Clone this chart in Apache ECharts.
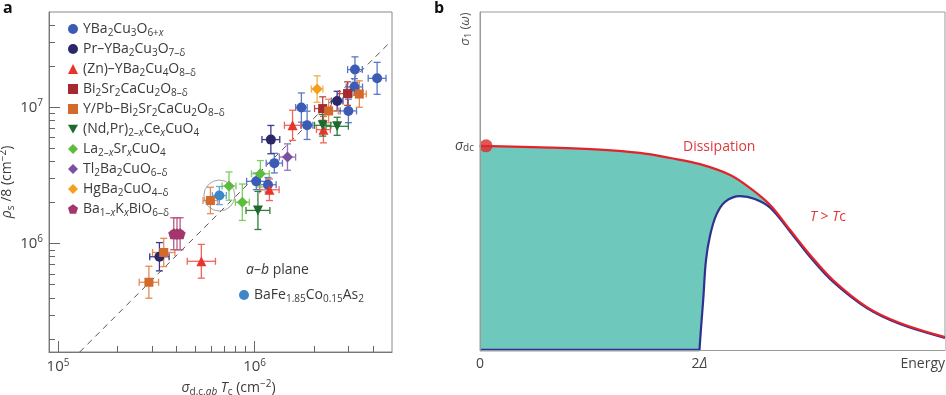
<!DOCTYPE html>
<html><head><meta charset="utf-8">
<script src="https://cdn.jsdelivr.net/npm/echarts@6/dist/echarts.min.js"></script>
<style>html,body{margin:0;padding:0;background:#fff}#c{width:946px;height:395px}</style>
</head><body><div id="c"></div>
<script>
// ---------- Panel a data: [sigma_dc*Tc, rho_s/8, x error factor, y error factor]
const ybco   = [[3.24e6,1.89e7,1.09,1.24],[4.20e6,1.63e7,1.11,1.31],[3.22e6,1.41e7,1.10,1.15],[3.00e6,9.4e6,1.10,1.22],
                [1.73e6,9.95e6,1.07,1.28],[1.85e6,7.37e6,1.07,1.27],[1.26e6,3.89e6,1.10,1.18],[1.02e6,2.86e6,1.12,1.15],[1.17e6,2.70e6,1.10,1.13]];
const prYbco = [[2.63e6,1.11e7,1.07,1.18],[1.21e6,5.79e6,1.11,1.27],[3.28e5,8.0e5,1.12,1.27]];
const znYbco = [[1.56e6,7.37e6,1.10,1.29],[2.24e6,6.85e6,1.085,1.25],[1.19e6,2.48e6,1.12,1.20],[5.36e5,7.41e5,1.18,1.33]];
const bi2212 = [[2.97e6,1.26e7,1.10,1.22],[2.22e6,9.78e6,1.10,1.22]];
const ypbBi  = [[3.41e6,1.25e7,1.085,1.25],[2.38e6,9.39e6,1.12,1.22],[5.96e5,2.07e6,1.09,1.25],[3.45e5,8.6e5,1.14,1.27],[2.90e5,5.2e5,1.12,1.31]];
const ndce   = [[2.22e6,7.37e6,1.10,1.20],[2.63e6,7.25e6,1.14,1.165],[1.04e6,1.75e6,1.15,1.38]];
const lsco   = [[1.07e6,3.25e6,1.11,1.25],[7.41e5,2.64e6,1.085,1.27],[8.66e5,2.01e6,1.085,1.36]];
const tl2201 = [[1.47e6,4.31e6,1.10,1.25]];
const hg1201 = [[2.08e6,1.36e7,1.07,1.25]];
const bkbo   = [[3.88e5,1.18e6,1.03,1.31],[4.03e5,1.18e6,1.03,1.31],[4.18e5,1.18e6,1.03,1.31]];
const bafe   = [[6.62e5,2.25e6,1.085,1.165]];
const homesLine = [[1.29e5,1.6e5],[4.84e6,2.96e7]];
const xRange = [9e4, 5e6];
const yRange = [1.6e5, 5e7];
const xMajorTicks = [1e5,1e6];
const xMinorTicks = [2e5,3e5,4e5,5e5,6e5,7e5,8e5,9e5,2e6,3e6,4e6];
const yMajorTicks = [1e6,1e7];
const yMinorTicks = [2e5,3e5,4e5,5e5,6e5,7e5,8e5,9e5,2e6,3e6,4e6,5e6,6e6,7e6,8e6,9e6,2e7,3e7,4e7];

// ---------- Panel b data: [energy, sigma1]
const energyTc = [[0,0.604],[1.51,0.599],[2.58,0.593],[3.44,0.583],[4.09,0.568],[4.73,0.550],[5.38,0.518],[5.81,0.479],
                  [6.24,0.429],[6.67,0.355],[7.10,0.281],[7.59,0.207],[8.32,0.127],[9.03,0.080],[10,0.038]];
const energyT0 = [[4.72,0],[4.75,0.059],[4.80,0.148],[4.86,0.266],[4.95,0.340],[5.08,0.399],[5.27,0.438],[5.59,0.455],
                  [5.91,0.447],[6.24,0.421],[6.67,0.350],[7.10,0.275],[7.59,0.202],[8.32,0.124],[9.03,0.077],[10,0.036]];
const t0Gap = [[0,0],[4.72,0]];
const sigmaDcPoint = [[0.13,0.604]];
const energyTickValues = [0,4.72,10];
const sigmaTickValues = [0.604];

const F = 'Open Sans, Noto Sans, sans-serif';
const TXT = '#3a3a3a';
const RICH = {
  s:  {fontSize:10, lineHeight:8, verticalAlign:'bottom', fontFamily:F},
  si: {fontSize:10, lineHeight:8, verticalAlign:'bottom', fontStyle:'italic', fontFamily:F},
  p:  {fontSize:10, lineHeight:8, verticalAlign:'top', fontFamily:F},
  i:  {fontStyle:'italic', fontFamily:F}
};

const groups = [
  {name:'YBa2Cu3O6+x', label:'YBa{s|2}Cu{s|3}O{s|6+}{si|x}', data:ybco, symbol:'circle', size:10, color:'#3b5bb5', bar:'#5b77c9'},
  {name:'Pr-YBa2Cu3O7-δ', label:'Pr–YBa{s|2}Cu{s|3}O{s|7–δ}', data:prYbco, symbol:'circle', size:10, color:'#2a2869', bar:'#3b3a8c'},
  {name:'(Zn)-YBa2Cu4O8-δ', label:'(Zn)–YBa{s|2}Cu{s|4}O{s|8–δ}', data:znYbco, symbol:'triangle', size:10, color:'#e8352b', bar:'#f06459'},
  {name:'Bi2Sr2CaCu2O8-δ', label:'Bi{s|2}Sr{s|2}CaCu{s|2}O{s|8–δ}', data:bi2212, symbol:'rect', size:9, color:'#a52a30', bar:'#b84a4c'},
  {name:'Y/Pb-Bi2Sr2CaCu2O8-δ', label:'Y/Pb–Bi{s|2}Sr{s|2}CaCu{s|2}O{s|8–δ}', data:ypbBi, symbol:'rect', size:9, color:'#d4692c', bar:'#e38c54'},
  {name:'(Nd,Pr)2-xCexCuO4', label:'(Nd,Pr){s|2–}{si|x}Ce{si|x}CuO{s|4}', data:ndce, symbol:'path://M0,0L2,0L1,1.75Z', size:10, color:'#1e6a2c', bar:'#2f7e3b'},
  {name:'La2-xSrxCuO4', label:'La{s|2–}{si|x}Sr{si|x}CuO{s|4}', data:lsco, symbol:'diamond', size:11, color:'#5cbd3c', bar:'#7dcd60'},
  {name:'Tl2Ba2CuO6-δ', label:'Tl{s|2}Ba{s|2}CuO{s|6–δ}', data:tl2201, symbol:'diamond', size:11, color:'#7a50a3', bar:'#9473b8'},
  {name:'HgBa2CuO4-δ', label:'HgBa{s|2}CuO{s|4–δ}', data:hg1201, symbol:'diamond', size:11, color:'#f3a01c', bar:'#f2b244'},
  {name:'Ba1-xKxBiO6-δ', label:'Ba{s|1–}{si|x}K{si|x}BiO{s|6–δ}', data:bkbo, symbol:'path://M1,0L1.95,0.69L1.59,1.81L0.41,1.81L0.05,0.69Z', size:11, color:'#a3366a', bar:'#b65a86'},
  {name:'BaFe1.85Co0.15As2', label:'BaFe{s|1.85}Co{s|0.15}As{s|2}', data:bafe, symbol:'circle', size:10, color:'#3d87c9', bar:'#6aa4d8'}
];
const labelOf = {};
groups.forEach(g => labelOf[g.name] = g.label);

function errSeries(g) {
  return {
    type:'custom', name:g.name+' error', xAxisIndex:0, yAxisIndex:0, data:g.data, silent:true, z:2,
    dimensions:['x','y','fx','fy'], encode:{x:0, y:1},
    renderItem:(params, api) => {
      const x = api.value(0), y = api.value(1), fx = api.value(2), fy = api.value(3);
      const c = api.coord([x, y]);
      const l = api.coord([x/fx, y]), r = api.coord([x*fx, y]);
      const b = api.coord([x, y/fy]), t = api.coord([x, y*fy]);
      const cap = 3.5, st = {stroke:g.bar, lineWidth:1.3};
      const ln = (x1,y1,x2,y2) => ({type:'line', shape:{x1,y1,x2,y2}, style:st});
      return {type:'group', children:[
        ln(l[0],c[1],r[0],c[1]), ln(l[0],c[1]-cap,l[0],c[1]+cap), ln(r[0],c[1]-cap,r[0],c[1]+cap),
        ln(c[0],b[1],c[0],t[1]), ln(c[0]-cap,b[1],c[0]+cap,b[1]), ln(c[0]-cap,t[1],c[0]+cap,t[1])
      ]};
    }
  };
}
function scatterSeries(g) {
  return {type:'scatter', name:g.name, xAxisIndex:0, yAxisIndex:0, data:g.data.map(d => [d[0], d[1]]),
    symbol:g.symbol, symbolSize:g.size, itemStyle:{color:g.color, opacity:1}, z:4, silent:true};
}
const powLabel = v => { const e = v > 100 ? Math.round(Math.log10(v)) : Math.round(v); return '{b|10}{p|' + e + '}'; };
const tickRich = {b:{fontSize:15, fontFamily:F, color:'#444', lineHeight:18}, p:{fontSize:10, lineHeight:10, verticalAlign:'top', fontFamily:F, color:'#444'}};

const series = [];
groups.forEach(g => series.push(errSeries(g)));
groups.forEach(g => series.push(scatterSeries(g)));
series.push({type:'line', name:'Homes law', xAxisIndex:0, yAxisIndex:0, data:homesLine, showSymbol:false, silent:true, z:1,
  lineStyle:{color:'#555', width:1, type:[6,5]}});
series.push({type:'scatter', name:'circled', xAxisIndex:0, yAxisIndex:0, data:bafe.map(d => [d[0], d[1]]), symbolSize:31, silent:true, z:5,
  itemStyle:{color:'rgba(0,0,0,0)', borderColor:'#8a8a8a', borderWidth:1}});
// panel b
series.push({type:'line', name:'fill', xAxisIndex:2, yAxisIndex:2, data:energyTc, smooth:0.35, showSymbol:false, silent:true, z:1,
  lineStyle:{width:0, opacity:0}, areaStyle:{color:'#6fc8bc', opacity:1}});
series.push({type:'line', name:'T = 0', xAxisIndex:2, yAxisIndex:2, data:energyT0, smooth:0.35, showSymbol:false, silent:true, z:2,
  lineStyle:{color:'#2e318f', width:2.2}, areaStyle:{color:'#ffffff', opacity:1}});
series.push({type:'line', name:'T > Tc', xAxisIndex:2, yAxisIndex:2, data:energyTc, smooth:0.35, showSymbol:false, silent:true, z:3,
  lineStyle:{color:'#e3222a', width:2.2}});
series.push({type:'line', name:'gap', xAxisIndex:2, yAxisIndex:2, data:t0Gap, showSymbol:false, silent:true, z:3, clip:false,
  lineStyle:{color:'#2e318f', width:2.4}});
series.push({type:'scatter', name:'sigma dc', xAxisIndex:2, yAxisIndex:2, data:sigmaDcPoint, symbolSize:13, silent:true, z:4, clip:false,
  itemStyle:{color:'#dd2a2a'}});

// log-space tick axes (ticks only) laid over the log data axes of panel a
function tickAxis(pos, range, values, len) {
  return {type:'value', gridIndex:0, position:pos, min:Math.log10(range[0]), max:Math.log10(range[1]), z:6,
    splitLine:{show:false}, axisLine:{show:false}, axisLabel:{show:false},
    axisTick:{show:true, inside:true, length:len, lineStyle:{color:'#666'}, customValues:values.map(v => Math.log10(v))}};
}
const logAxisBase = {type:'log', logBase:10, splitLine:{show:false}, minorTick:{show:false}, minorSplitLine:{show:false}, axisTick:{show:false}};
const option = {
  animation:false,
  backgroundColor:'#fff',
  textStyle:{fontFamily:F},
  grid:[
    {left:49, top:12, width:343, height:340, show:true, borderColor:'#888', borderWidth:1, containLabel:false, outerBoundsMode:'none'},
    {left:480, top:12, width:465, height:338, show:true, borderColor:'#9a9a9a', borderWidth:1, containLabel:false, outerBoundsMode:'none'}
  ],
  xAxis:[
    Object.assign({}, logAxisBase, {gridIndex:0, position:'bottom', min:xRange[0], max:xRange[1],
      axisLine:{show:true, lineStyle:{color:'#777'}},
      axisLabel:{show:true, margin:6, customValues:xMajorTicks, formatter:powLabel, rich:tickRich},
      name:'{i|σ}{s|d.c.}{si|ab} {i|T}{s|c} (cm{p|−2})', nameLocation:'middle', nameGap:27,
      nameTextStyle:{fontSize:14, color:TXT, fontFamily:F, lineHeight:18, padding:[0,0,0,16], rich:RICH}}),
    tickAxis('bottom', xRange, xMinorTicks, 6),
    {type:'value', gridIndex:1, min:0, max:10, z:10, splitLine:{show:false},
      axisLine:{show:true, lineStyle:{color:'#9a9a9a'}}, axisTick:{show:false},
      axisLabel:{show:true, margin:7, customValues:energyTickValues, alignMaxLabel:'right', color:'#444', fontSize:14, fontFamily:F,
        formatter:v => v === 0 ? '0' : (v >= 10 ? 'Energy' : '2{i|Δ}'), rich:{i:{fontStyle:'italic', fontSize:14, fontFamily:F, color:'#444'}}}},
    tickAxis('bottom', xRange, xMajorTicks, 11)
  ],
  yAxis:[
    Object.assign({}, logAxisBase, {gridIndex:0, position:'left', min:yRange[0], max:yRange[1],
      axisLine:{show:true, lineStyle:{color:'#777'}},
      axisLabel:{show:true, margin:6, customValues:yMajorTicks, formatter:powLabel, rich:tickRich},
      name:'{i|ρ}{s|s} /8 (cm{p|−2})', nameLocation:'middle', nameGap:25, nameRotate:90,
      nameTextStyle:{fontSize:14, color:TXT, fontFamily:F, lineHeight:18, rich:RICH}}),
    tickAxis('left', yRange, yMinorTicks, 6),
    {type:'value', gridIndex:1, min:0, max:1, z:10, splitLine:{show:false},
      axisLine:{show:true, lineStyle:{color:'#9a9a9a'}}, axisTick:{show:false},
      axisLabel:{show:true, margin:6, customValues:sigmaTickValues, color:'#444', fontSize:14, fontFamily:F,
        formatter:() => '{i|σ}{s|dc}', rich:RICH}},
    tickAxis('left', yRange, yMajorTicks, 11)
  ],
  legend:[
    {orient:'vertical', left:63, top:15, itemWidth:10, itemHeight:10, itemGap:2, selectedMode:false,
      data:groups.slice(0,10).map(g => g.name), formatter:n => labelOf[n],
      textStyle:{fontSize:14, color:TXT, fontFamily:F, lineHeight:18, rich:RICH}},
    {orient:'vertical', left:234, top:281, itemWidth:10, itemHeight:10, selectedMode:false,
      data:[groups[10].name], formatter:n => labelOf[n],
      textStyle:{fontSize:14, color:TXT, fontFamily:F, lineHeight:18, rich:RICH}}
  ],
  graphic:[
    {type:'text', left:3, top:0, style:{text:'a', font:'bold 16px '+F, fill:'#111'}},
    {type:'text', left:434, top:0, style:{text:'b', font:'bold 16px '+F, fill:'#111'}},
    {type:'text', x:246, y:270, style:{text:'{i|a}–{i|b} plane', fontSize:14, fontFamily:F, fill:TXT, verticalAlign:'middle',
      rich:{i:{fontStyle:'italic', fontSize:14, fontFamily:F, fill:TXT}}}},
    {type:'text', x:683, y:147, style:{text:'Dissipation', fontSize:14, fontFamily:F, fill:'#e0373a', verticalAlign:'middle'}},
    {type:'text', x:810, y:217, style:{text:'{i|T} > {i|T}c', fontSize:14, fontFamily:F, fill:'#e0373a', verticalAlign:'middle',
      rich:{i:{fontStyle:'italic', fontSize:14, fontFamily:F, fill:'#e0373a'}}}},
    {type:'text', x:715, y:282, style:{text:'{i|T} = 0', fontSize:14, fontFamily:F, fill:'#3d3f9f', verticalAlign:'middle',
      rich:{i:{fontStyle:'italic', fontSize:14, fontFamily:F, fill:'#3d3f9f'}}}},
    {type:'text', x:465, y:29, rotation:Math.PI/2, style:{text:'{i|σ}{s|1} ({i|ω})', fontSize:13, fontFamily:F, fill:'#555',
      align:'center', verticalAlign:'middle', lineHeight:16,
      rich:{i:{fontStyle:'italic', fontSize:13, fontFamily:F, fill:'#555'}, s:{fontSize:9, lineHeight:7, verticalAlign:'bottom', fontFamily:F, fill:'#555'}}}}
  ],
  series
};
const chart = echarts.init(document.getElementById('c'), null, {renderer:'canvas'});
chart.setOption(option);
</script></body></html>
